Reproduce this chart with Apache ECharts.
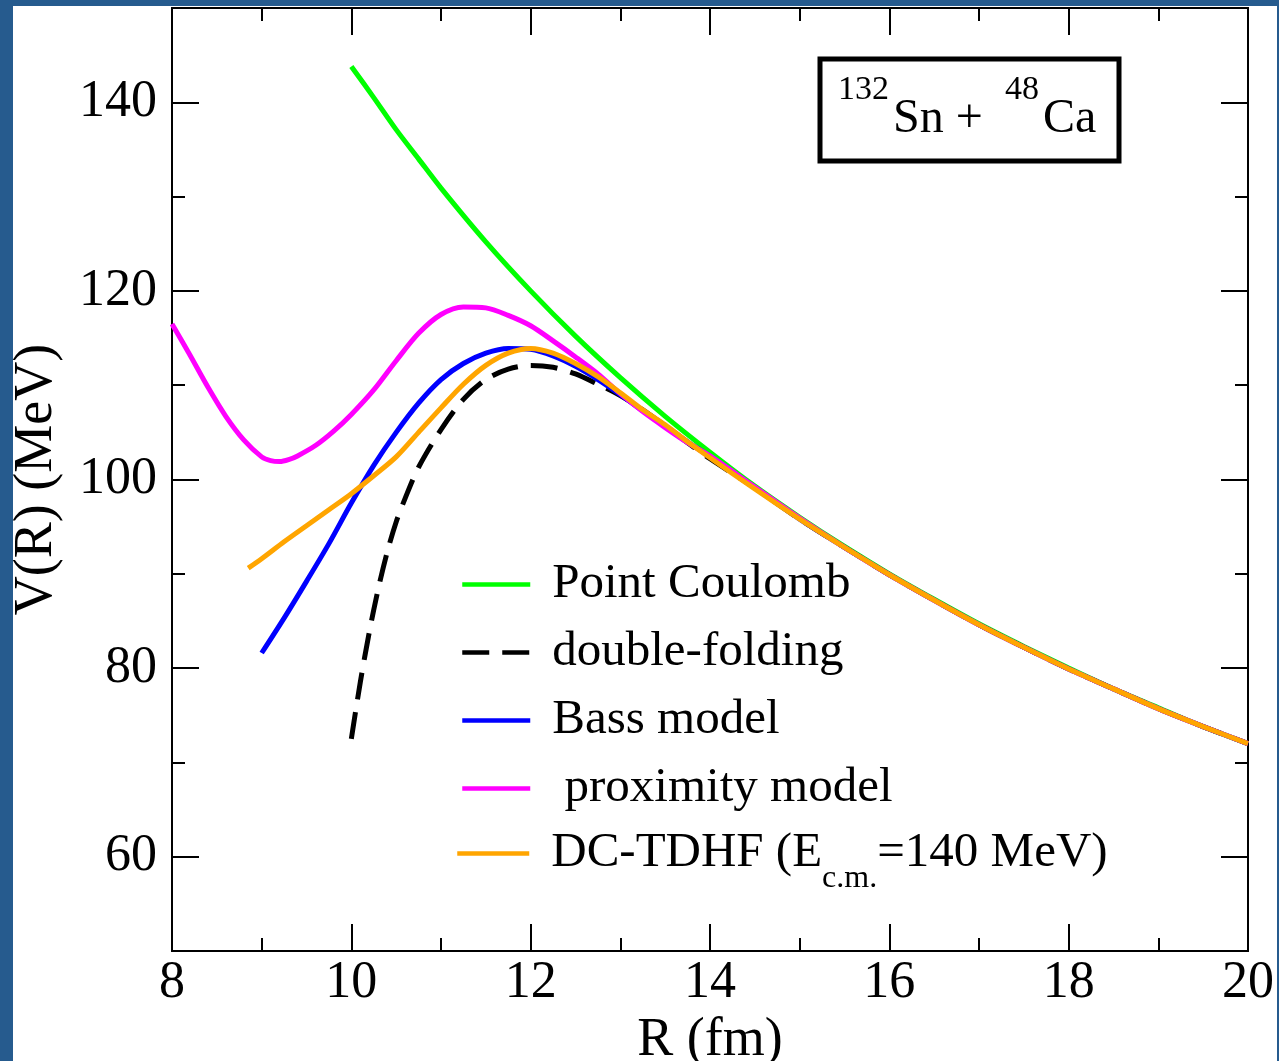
<!DOCTYPE html>
<html><head><meta charset="utf-8">
<style>html,body{margin:0;padding:0;background:#fff;} #c{width:1279px;height:1061px;}</style>
<script src="https://cdn.jsdelivr.net/npm/echarts@6/dist/echarts.min.js"></script>
</head><body><div id="c"></div><script>
// ---- data ----
const xTicks = [8, 10, 12, 14, 16, 18, 20];
const yTicks = [60, 80, 100, 120, 140];
const yMinorTicks = [50, 70, 90, 110, 130, 150];
const seriesNames = ['Point Coulomb', 'double-folding', 'Bass model', ' proximity model', 'DC-TDHF (Ec.m.=140 MeV)'];

const pointCoulomb = [[10,143.8],[10.25,140.5],[10.5,137.1],[10.75,134.0],[11,130.9],[11.5,125.2],[12,120.0],[12.5,115.2],[13,110.8],[13.5,106.7],[14,102.9],[14.5,99.3],[15,96.0],[15.5,92.9],[16,90.0],[16.5,87.3],[17,84.7],[17.5,82.3],[18,80.0],[18.5,77.8],[19,75.8],[19.5,73.8],[20,72.0]];

const doubleFolding = [[10.0,72.5],[10.1,78.5],[10.2,83.8],[10.3,88.4],[10.4,92.3],[10.5,95.5],[10.6,98.0],[10.75,101.3],[11.0,105.3],[11.25,108.5],[11.5,110.6],[11.75,111.7],[12.0,112.1],[12.25,111.9],[12.5,111.2],[12.75,110.1],[13.0,108.9],[13.25,107.4],[13.5,105.7],[13.75,103.9],[14.0,102.2],[14.5,99.1],[15,95.8],[15.5,92.8],[16,89.9],[16.5,87.2],[17,84.6],[17.5,82.2],[18,79.9],[18.5,77.8],[19,75.7],[19.5,73.8],[20,72.0]];

const bassModel = [[9.0,81.6],[9.25,85.3],[9.5,89.2],[9.75,93.2],[10.0,97.5],[10.25,101.5],[10.5,105.0],[10.75,108.1],[11.0,110.6],[11.25,112.3],[11.5,113.4],[11.75,113.9],[12.0,113.8],[12.25,113.1],[12.5,112.0],[12.75,110.6],[13.0,109.0],[13.25,107.3],[13.5,105.7],[13.75,104.0],[14.0,102.4],[14.5,99.1],[15,95.8],[15.5,92.8],[16,89.9],[16.5,87.2],[17,84.6],[17.5,82.2],[18,79.9],[18.5,77.8],[19,75.7],[19.5,73.8],[20,72.0]];

const proximityModel = [[8.0,116.5],[8.2,113.2],[8.4,109.8],[8.6,106.7],[8.8,104.2],[9.0,102.4],[9.1,102.0],[9.2,101.9],[9.3,102.1],[9.4,102.5],[9.6,103.6],[9.8,105.1],[10.0,106.9],[10.25,109.5],[10.5,112.6],[10.75,115.5],[11.0,117.5],[11.25,118.3],[11.5,118.2],[11.75,117.4],[12.0,116.3],[12.25,114.7],[12.5,113.0],[12.75,111.2],[13.0,109.1],[13.25,107.2],[13.5,105.5],[13.75,103.9],[14.0,102.5],[14.5,99.2],[15,95.9],[15.5,92.8],[16,89.9],[16.5,87.2],[17,84.6],[17.5,82.2],[18,79.9],[18.5,77.8],[19,75.7],[19.5,73.8],[20,72.0]];

const dcTdhf = [[8.85,90.6],[9.0,91.6],[9.25,93.4],[9.5,95.1],[9.75,96.8],[10.0,98.5],[10.25,100.4],[10.5,102.4],[10.75,105.0],[11.0,107.6],[11.25,110.1],[11.5,112.1],[11.75,113.4],[12.0,113.9],[12.25,113.4],[12.5,112.3],[12.75,110.9],[13.0,109.2],[13.25,107.4],[13.5,105.8],[13.75,104.0],[14.0,102.3],[14.5,99.0],[15,95.8],[15.5,92.8],[16,89.9],[16.5,87.2],[17,84.6],[17.5,82.2],[18,79.9],[18.5,77.8],[19,75.7],[19.5,73.8],[20,72.0]];

// ---- chart ----
const FONT = 'Liberation Serif';
const chart = echarts.init(document.getElementById('c'), null, {renderer: 'canvas'});

function xAxisCfg(pos, labels) {
  return {
    type: 'value', position: pos, min: 8, max: 20, interval: 2,
    axisLine: {show: true, onZero: false, lineStyle: {color: '#000', width: 2}},
    axisTick: {show: true, inside: true, length: 27, lineStyle: {color: '#000', width: 2}},
    minorTick: {show: true, splitNumber: 2, length: 13, lineStyle: {color: '#000', width: 2}},
    axisLabel: {show: labels, customValues: xTicks, margin: 6, color: '#000', fontFamily: FONT, fontSize: 52},
    splitLine: {show: false}, minorSplitLine: {show: false},
    name: labels ? 'R (fm)' : '', nameLocation: 'middle', nameGap: 62,
    nameTextStyle: {color: '#000', fontFamily: FONT, fontSize: 54}
  };
}
function yAxisCfg(pos, major, labels, withName) {
  return {
    type: 'value', position: pos, min: 50, max: 150,
    axisLine: {show: true, onZero: false, lineStyle: {color: '#000', width: 2}},
    axisTick: {show: true, inside: true, length: major ? 27 : 13, customValues: major ? yTicks : yMinorTicks, lineStyle: {color: '#000', width: 2}},
    axisLabel: {show: labels, customValues: yTicks, margin: 15, color: '#000', fontFamily: FONT, fontSize: 52},
    splitLine: {show: false},
    name: withName ? 'V(R) (MeV)' : '', nameLocation: 'middle', nameGap: 108, nameRotate: 90,
    nameTextStyle: {color: '#000', fontFamily: FONT, fontSize: 54}
  };
}

const colors = ['#00ff00', '#000000', '#0000ff', '#ff00ff', '#ffa500'];
const datasets = [pointCoulomb, doubleFolding, bassModel, proximityModel, dcTdhf];

const series = datasets.map((d, i) => ({
  name: seriesNames[i], type: 'line', data: d, xAxisIndex: 0, yAxisIndex: 0,
  symbol: 'none', smooth: 0.3, clip: true,
  lineStyle: {color: colors[i], width: 5, type: i === 1 ? [27, 13] : 'solid'},
  itemStyle: {color: colors[i]},
  z: 2 + i
}));

const legendText = {
  color: '#000', fontFamily: FONT, fontSize: 49, lineHeight: 49, padding: [0, 0, 0, 17],
  rich: {
    m: {color: '#000', fontFamily: FONT, fontSize: 49, lineHeight: 49, padding: [24, 0, 24, 0]},
    s: {color: '#000', fontFamily: FONT, fontSize: 32, lineHeight: 48, padding: [50, 0, 0, 0]}
  }
};

chart.setOption({
  animation: false,
  backgroundColor: '#ffffff',
  grid: {left: 172, right: 31, top: 8, bottom: 110, containLabel: false, outerBoundsMode: 'none'},
  xAxis: [xAxisCfg('bottom', true), xAxisCfg('top', false)],
  yAxis: [yAxisCfg('left', true, true, true), yAxisCfg('left', false, false, false),
          yAxisCfg('right', true, false, false), yAxisCfg('right', false, false, false)],
  legend: [{
    show: true, orient: 'vertical', left: 455, top: 555,
    itemWidth: 68, itemHeight: 14, itemGap: 19, selectedMode: false,
    itemStyle: {opacity: 0},
    lineStyle: {width: 4.5},
    data: seriesNames.slice(0, 4),
    textStyle: legendText
  }, {
    show: true, orient: 'vertical', left: 450, top: 800,
    itemWidth: 72, itemHeight: 14, itemGap: 19, selectedMode: false,
    itemStyle: {opacity: 0},
    lineStyle: {width: 4.5},
    data: [seriesNames[4]],
    textStyle: legendText,
    formatter: function () { return '{m|DC-TDHF (E}{s|c.m.}{m|=140 MeV)}'; }
  }],
  graphic: [
    {type: 'rect', shape: {x: 0, y: 0, width: 13, height: 1061}, style: {fill: '#265b8e'}, silent: true},
    {type: 'rect', shape: {x: 0, y: 0, width: 1279, height: 6}, style: {fill: '#265b8e'}, silent: true},
    {type: 'rect', shape: {x: 1277, y: 0, width: 2, height: 1061}, style: {fill: '#265b8e'}, silent: true},
    {type: 'rect', shape: {x: 820, y: 59, width: 299, height: 102}, style: {fill: '#fff', stroke: '#000', lineWidth: 5}, z: 10},
    {type: 'text', x: 838, y: 90, z: 11, style: {text: '132', fontFamily: FONT, fontSize: 34, fill: '#000', verticalAlign: 'middle', align: 'left'}},
    {type: 'text', x: 893, y: 119, z: 11, style: {text: 'Sn +', fontFamily: FONT, fontSize: 48, fill: '#000', verticalAlign: 'middle', align: 'left'}},
    {type: 'text', x: 1005, y: 90, z: 11, style: {text: '48', fontFamily: FONT, fontSize: 34, fill: '#000', verticalAlign: 'middle', align: 'left'}},
    {type: 'text', x: 1043, y: 119, z: 11, style: {text: 'Ca', fontFamily: FONT, fontSize: 48, fill: '#000', verticalAlign: 'middle', align: 'left'}}
  ],
  series: series
});
</script></body></html>
